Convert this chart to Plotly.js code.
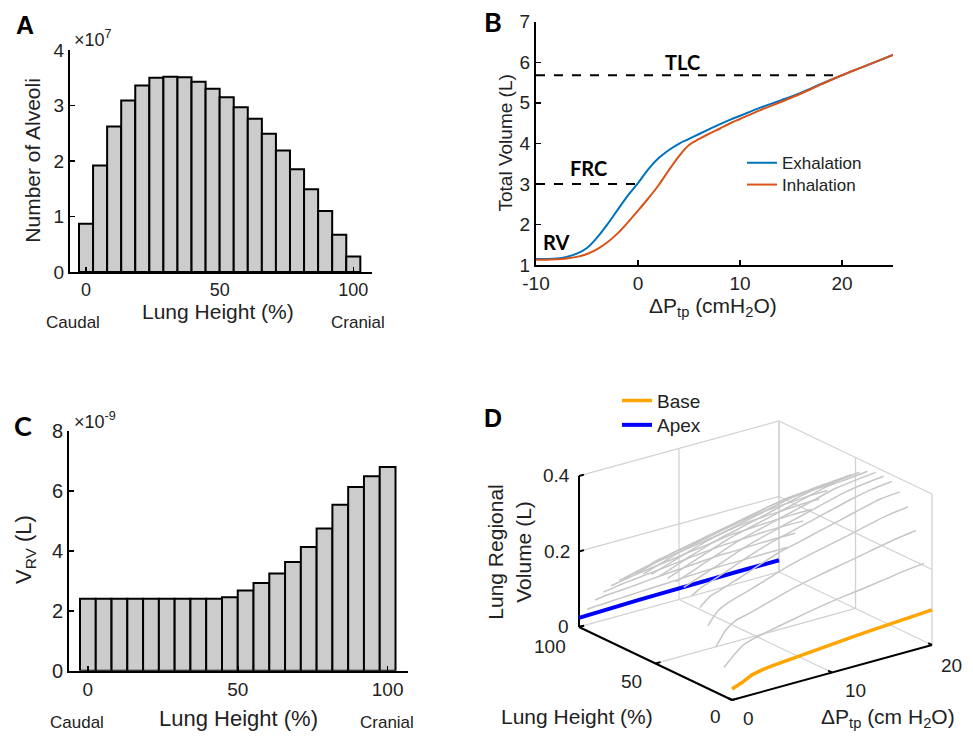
<!DOCTYPE html>
<html><head><meta charset="utf-8">
<script src="https://cdn.plot.ly/plotly-3.0.1.min.js"></script>
<style>html,body{margin:0;padding:0;background:#fff;} #chart{width:973px;height:741px;}</style>
</head><body><div id="chart"></div>
<script>
// ---------- Panels A & C : histogram bins ----------
const lungHeight = [0,5.26,10.53,15.79,21.05,26.32,31.58,36.84,42.11,47.37,52.63,57.89,63.16,68.42,73.68,78.95,84.21,89.47,94.74,100];
const binWidth = 5.263;
const alveoliCount = [0.87,1.92,2.62,3.09,3.36,3.50,3.52,3.51,3.43,3.30,3.15,2.97,2.76,2.49,2.19,1.85,1.49,1.10,0.67,0.28]; // x1e7
const vRV = [2.40,2.40,2.40,2.40,2.40,2.40,2.40,2.40,2.40,2.45,2.68,2.93,3.24,3.63,4.13,4.75,5.54,6.13,6.49,6.80]; // x1e-9 L

// ---------- Panel B : pressure-volume curves ----------
const pressureB = [-10,-9,-8,-7,-6,-5,-4,-3,-2,-1,0,1,2,3,4,5,6,7,8,9,10,12,14,16,18,20,22,25];
const exhalation = [1.15,1.15,1.16,1.20,1.28,1.42,1.68,2.00,2.36,2.71,3.02,3.36,3.63,3.83,3.99,4.11,4.23,4.35,4.47,4.58,4.68,4.88,5.06,5.25,5.47,5.68,5.88,6.18];
const inhalation = [1.13,1.13,1.14,1.16,1.20,1.27,1.39,1.56,1.78,2.05,2.34,2.64,2.96,3.33,3.68,3.96,4.11,4.24,4.36,4.49,4.60,4.82,5.02,5.23,5.46,5.68,5.88,6.18];
const tlcLevel = 5.68, frcLevel = 3.0;
const tlcRange = [-10, 20], frcRange = [-10, 0];

// ---------- Panel D : regional volume vs pressure (one row per lung-height bin) ----------
const pressureD = [0,1,2,3,4,6,8,10,12,14,16,18,20];
const regionVolume = [
 [0.029,0.039,0.052,0.058,0.061,0.066,0.071,0.076,0.079,0.083,0.086,0.090,0.093],
 [0.076,0.102,0.122,0.131,0.137,0.148,0.159,0.169,0.177,0.184,0.192,0.200,0.206],
 [0.120,0.158,0.176,0.183,0.190,0.206,0.221,0.233,0.244,0.254,0.265,0.275,0.283],
 [0.166,0.198,0.212,0.221,0.229,0.247,0.265,0.279,0.291,0.303,0.316,0.328,0.335],
 [0.204,0.226,0.235,0.245,0.254,0.274,0.293,0.306,0.320,0.333,0.347,0.360,0.365],
 [0.225,0.241,0.250,0.260,0.270,0.291,0.309,0.323,0.337,0.351,0.365,0.376,0.382],
 [0.237,0.247,0.257,0.267,0.277,0.298,0.314,0.329,0.343,0.357,0.371,0.380,0.386],
 [0.242,0.251,0.261,0.272,0.282,0.302,0.317,0.331,0.345,0.359,0.373,0.380,0.386],
 [0.241,0.251,0.261,0.271,0.281,0.300,0.314,0.327,0.341,0.355,0.368,0.373,0.379],
 [0.237,0.246,0.256,0.266,0.275,0.292,0.305,0.318,0.332,0.345,0.355,0.360,0.366],
 [0.231,0.240,0.249,0.258,0.267,0.282,0.295,0.307,0.320,0.332,0.340,0.345,0.350],
 [0.222,0.231,0.239,0.248,0.257,0.269,0.281,0.293,0.305,0.317,0.322,0.327,0.330],
 [0.211,0.219,0.227,0.235,0.242,0.253,0.264,0.275,0.286,0.296,0.301,0.305,0.307],
 [0.194,0.201,0.208,0.216,0.221,0.231,0.241,0.251,0.261,0.268,0.272,0.276,0.277],
 [0.174,0.180,0.187,0.192,0.197,0.205,0.214,0.223,0.232,0.237,0.240,0.243,0.244],
 [0.150,0.155,0.160,0.164,0.168,0.175,0.183,0.190,0.198,0.201,0.204,0.206,0.206],
 [0.123,0.127,0.131,0.134,0.137,0.143,0.149,0.155,0.160,0.162,0.165,0.166,0.166],
 [0.092,0.096,0.098,0.100,0.102,0.107,0.111,0.115,0.119,0.120,0.122,0.123,0.123],
 [0.057,0.059,0.060,0.062,0.063,0.066,0.068,0.071,0.073,0.074,0.074,0.075,0.075],
 [0.024,0.025,0.026,0.026,0.027,0.028,0.029,0.030,0.030,0.031,0.031,0.031,0.031]
];
const pLim = [0, 20], hLim = [0, 100], vLim = [0, 0.4];
const pTicks = [0, 10, 20], hTicks = [0, 50, 100], vTicks = [0, 0.2, 0.4];

const FONT = 'Liberation Sans, Arial, sans-serif';
const CAL = 'Lato, Liberation Sans, sans-serif';
const TXT = '#222';
const W = 973, H = 741;
const px = v => v / W, py = v => 1 - v / H;

// oblique (MATLAB-like 3-D view) projection of panel D onto a hidden 2-D axis pair
const view = {pu: 1, hu: -0.153, pw: 0.007285, hw: 0.001934};
const projU = (p, h) => p * view.pu + h * view.hu;
const projW = (p, h, v) => v + p * view.pw + h * view.hw;
function segs(list) { // list of [[p,h,v],[p,h,v]] -> x/y with gaps
  const x = [], y = [];
  list.forEach(s => { s.forEach(q => { x.push(projU(q[0], q[1])); y.push(projW(q[0], q[1], q[2])); }); x.push(null); y.push(null); });
  return {x, y};
}

const traces = [];
// A
traces.push({type:'bar', x:lungHeight, y:alveoliCount, width:binWidth, xaxis:'x', yaxis:'y',
  marker:{color:'#cccccc', line:{color:'#000', width:2}}, showlegend:false});
// C
traces.push({type:'bar', x:lungHeight, y:vRV, width:binWidth, xaxis:'x3', yaxis:'y3',
  marker:{color:'#cccccc', line:{color:'#000', width:2}}, showlegend:false});
// B
traces.push({type:'scatter', mode:'lines', x:tlcRange, y:[tlcLevel,tlcLevel], xaxis:'x2', yaxis:'y2',
  line:{color:'#000', width:2, dash:'dash'}, showlegend:false});
traces.push({type:'scatter', mode:'lines', x:frcRange, y:[frcLevel,frcLevel], xaxis:'x2', yaxis:'y2',
  line:{color:'#000', width:2, dash:'dash'}, showlegend:false});
traces.push({type:'scatter', mode:'lines', x:pressureB, y:exhalation, name:'Exhalation', xaxis:'x2', yaxis:'y2',
  line:{color:'#0072BD', width:2, shape:'spline'}, legend:'legend'});
traces.push({type:'scatter', mode:'lines', x:pressureB, y:inhalation, name:'Inhalation', xaxis:'x2', yaxis:'y2',
  line:{color:'#D95319', width:2, shape:'spline'}, legend:'legend3'});

// D : box grid (back walls + floor) at tick positions
const grid = [];
pTicks.forEach(p => { if (p !== pLim[0]) grid.push([[p, hLim[1], vLim[0]], [p, hLim[1], vLim[1]]]); });
vTicks.forEach(v => { if (v !== vLim[0]) grid.push([[pLim[0], hLim[1], v], [pLim[1], hLim[1], v]]); });
hTicks.forEach(h => grid.push([[pLim[1], h, vLim[0]], [pLim[1], h, vLim[1]]]));
vTicks.forEach(v => { if (v !== vLim[0]) grid.push([[pLim[1], hLim[0], v], [pLim[1], hLim[1], v]]); });
pTicks.forEach(p => { if (p !== pLim[0]) grid.push([[p, hLim[0], vLim[0]], [p, hLim[1], vLim[0]]]); });
hTicks.forEach(h => { if (h !== hLim[0]) grid.push([[pLim[0], h, vLim[0]], [pLim[1], h, vLim[0]]]); });
const g = segs(grid);
traces.push({type:'scatter', mode:'lines', x:g.x, y:g.y, xaxis:'x4', yaxis:'y4', connectgaps:false,
  line:{color:'#d2d2d2', width:1.3}, showlegend:false, hoverinfo:'skip'});
// D : black axes + ticks
const axSegs = [
  [[pLim[0], hLim[0], vLim[0]], [pLim[0], hLim[1], vLim[0]]],
  [[pLim[0], hLim[0], vLim[0]], [pLim[1], hLim[0], vLim[0]]],
  [[pLim[0], hLim[1], vLim[0]], [pLim[0], hLim[1], vLim[1]]]
];
vTicks.forEach(v => axSegs.push([[pLim[0], hLim[1], v], [pLim[0] + 0.5, hLim[1], v]]));
hTicks.forEach(h => axSegs.push([[pLim[0], h, vLim[0]], [pLim[0] + 0.5, h, vLim[0]]]));
pTicks.forEach(p => axSegs.push([[p, hLim[0], vLim[0]], [p, hLim[0] + 2.5, vLim[0]]]));
const a = segs(axSegs);
traces.push({type:'scatter', mode:'lines', x:a.x, y:a.y, xaxis:'x4', yaxis:'y4', connectgaps:false,
  line:{color:'#000', width:2}, showlegend:false, hoverinfo:'skip'});
// D : curves, back (apex) to front (base)
const last = regionVolume.length - 1;
function curve(i) {
  return {x: pressureD.map(p => projU(p, lungHeight[i])), y: pressureD.map((p, j) => projW(p, lungHeight[i], regionVolume[i][j]))};
}
const apex = curve(last);
traces.push({type:'scatter', mode:'lines', x:apex.x, y:apex.y, xaxis:'x4', yaxis:'y4', name:'Apex',
  line:{color:'#0000FF', width:4}, legend:'legend4'});
for (let i = last - 1; i >= 1; i--) {
  const c = curve(i);
  traces.push({type:'scatter', mode:'lines', x:c.x, y:c.y, xaxis:'x4', yaxis:'y4',
    line:{color:'#c6c6c6', width:1.5, shape:'spline', smoothing:0.6}, showlegend:false, hoverinfo:'skip'});
}
const base = curve(0);
traces.push({type:'scatter', mode:'lines', x:base.x, y:base.y, xaxis:'x4', yaxis:'y4', name:'Base',
  line:{color:'#FFA500', width:3.5}, legend:'legend2'});

const ax2d = {showline:true, linecolor:'#000', linewidth:2, ticks:'inside', ticklen:5, tickwidth:1.5, tickcolor:'#000',
  showgrid:false, zeroline:false, tickfont:{family:FONT, size:19, color:TXT}, fixedrange:true};
const hidden = {visible:false, fixedrange:true, showgrid:false, zeroline:false};

const layout = {
  width:W, height:H, margin:{l:0,r:0,t:0,b:0}, paper_bgcolor:'#fff', plot_bgcolor:'rgba(0,0,0,0)',
  font:{family:FONT, color:TXT}, bargap:0, hovermode:false,
  xaxis: Object.assign({}, ax2d, {domain:[px(70), px(372)], range:[-6,107], tickvals:[0,50,100], anchor:'y', tickfont:{family:FONT,size:18,color:TXT}}),
  yaxis: Object.assign({}, ax2d, {domain:[py(272), py(50)], range:[0,4], tickvals:[0,1,2,3,4], anchor:'x'}),
  xaxis2: Object.assign({}, ax2d, {domain:[px(536), px(893)], range:[-10,25], tickvals:[-10,0,10,20], ticktext:['-10','0','10','20'], anchor:'y2'}),
  yaxis2: Object.assign({}, ax2d, {domain:[py(265), py(21.7)], range:[1,7], tickvals:[1,2,3,4,5,6,7], anchor:'x2'}),
  xaxis3: Object.assign({}, ax2d, {domain:[px(69), px(408)], range:[-6.3,106.8], tickvals:[0,50,100], anchor:'y3', tickfont:{family:FONT,size:19,color:TXT}}),
  yaxis3: Object.assign({}, ax2d, {domain:[py(670.7), py(431)], range:[0,8], tickvals:[0,2,4,6,8], anchor:'x3', tickfont:{family:FONT,size:20,color:TXT}}),
  xaxis4: Object.assign({}, hidden, {domain:[px(552), px(972)], range:[-18, 24], anchor:'y4'}),
  yaxis4: Object.assign({}, hidden, {domain:[py(711.325), py(416.875)], range:[-0.03, 0.75], anchor:'x4'}),
  legend: {x:px(742), y:py(163.3), xanchor:'left', yanchor:'middle', bgcolor:'rgba(0,0,0,0)', borderwidth:0,
    font:{family:FONT, size:17, color:TXT}},
  legend3: {x:px(742), y:py(185), xanchor:'left', yanchor:'middle', bgcolor:'rgba(0,0,0,0)', borderwidth:0,
    font:{family:FONT, size:17, color:TXT}},
  legend2: {x:px(617), y:py(400.7), xanchor:'left', yanchor:'middle', bgcolor:'rgba(0,0,0,0)', borderwidth:0,
    font:{family:FONT, size:19, color:TXT}},
  legend4: {x:px(617), y:py(425), xanchor:'left', yanchor:'middle', bgcolor:'rgba(0,0,0,0)', borderwidth:0,
    font:{family:FONT, size:19, color:TXT}},
  annotations: []
};

function note(text, x, y, opts) {
  layout.annotations.push(Object.assign({text:text, x:x, y:y, xref:'paper', yref:'paper', showarrow:false,
    xanchor:'center', yanchor:'middle', font:{family:FONT, size:19, color:TXT}}, opts || {}));
}
// A
note('<b>A</b>', px(25), py(25), {font:{family:FONT, size:25, color:'#000'}});
note('×10<sup>7</sup>', px(72), py(38), {xanchor:'left', font:{family:FONT, size:18, color:TXT}});
note('Number of Alveoli', px(31.7), py(160), {textangle:-90, font:{family:FONT, size:21, color:TXT}});
note('Lung Height (%)', px(218), py(311), {font:{family:FONT, size:21, color:TXT}});
note('Caudal', px(73), py(322), {font:{family:FONT, size:17, color:TXT}});
note('Cranial', px(358), py(322), {font:{family:FONT, size:17, color:TXT}});
// B
note('<b>B</b>', px(493), py(21.7), {font:{family:CAL, size:27, color:'#000'}});
note('Total Volume (L)', px(505), py(142.5), {textangle:-90, font:{family:FONT, size:19, color:TXT}});
note('ΔP<sub>tp</sub> (cmH<sub>2</sub>O)', px(713), py(307), {font:{family:FONT, size:21, color:TXT}});
note('<b>TLC</b>', 4.35, 6.01, {xref:'x2', yref:'y2', font:{family:CAL, size:20, color:'#000'}});
note('<b>FRC</b>', -4.9, 3.38, {xref:'x2', yref:'y2', font:{family:CAL, size:20, color:'#000'}});
note('<b>RV</b>', -8.0, 1.57, {xref:'x2', yref:'y2', font:{family:CAL, size:20, color:'#000'}});
// C
note('<b>C</b>', px(23), py(425), {font:{family:CAL, size:27, color:'#000'}});
note('×10<sup>-9</sup>', px(72), py(420), {xanchor:'left', font:{family:FONT, size:18, color:TXT}});
note('V<sub>RV</sub> (L)', px(25), py(550), {textangle:-90, font:{family:FONT, size:22, color:TXT}});
note('Lung Height (%)', px(238), py(718), {font:{family:FONT, size:22, color:TXT}});
note('Caudal', px(77), py(722), {font:{family:FONT, size:17, color:TXT}});
note('Cranial', px(387), py(722), {font:{family:FONT, size:17, color:TXT}});
// D
note('<b>D</b>', px(493), py(418), {font:{family:FONT, size:25, color:'#000'}});
note('0.4', px(556.7), py(476), {});
note('0.2', px(556.7), py(551.7), {});
note('0', px(563), py(626), {});
note('100', px(550), py(646), {});
note('50', px(631.7), py(681.7), {});
note('0', px(715), py(716.7), {});
note('0', px(748), py(718.3), {});
note('10', px(855), py(690.7), {});
note('20', px(951.7), py(665), {});
note('Lung Regional<br>Volume (L)', px(509), py(551.7), {textangle:-90, font:{family:FONT, size:21, color:TXT}});
note('Lung Height (%)', px(576.7), py(716.7), {font:{family:FONT, size:21, color:TXT}});
note('ΔP<sub>tp</sub> (cm H<sub>2</sub>O)', px(888), py(718), {font:{family:FONT, size:21, color:TXT}});

Plotly.newPlot('chart', traces, layout, {displayModeBar:false, staticPlot:true});
</script></body></html>
